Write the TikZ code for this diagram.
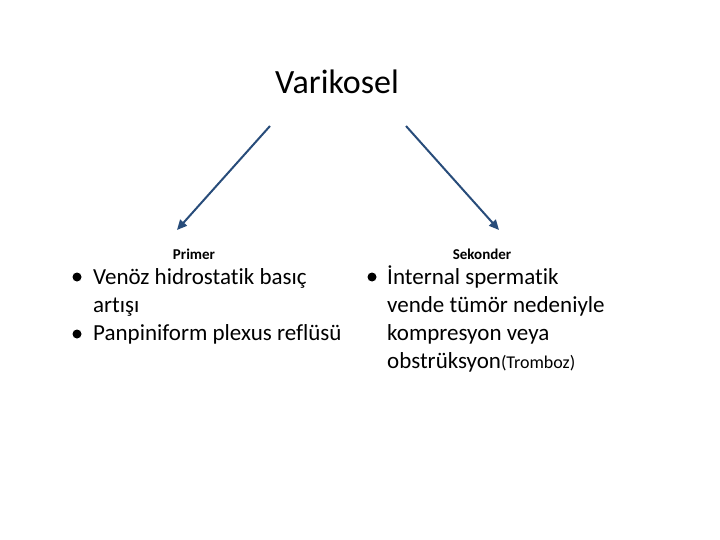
\documentclass[tikz,border=0pt]{standalone}
\usepackage{fontspec}
\setmainfont[Ligatures=NoCommon]{Carlito}
\usetikzlibrary{arrows.meta}
\definecolor{arrowblue}{RGB}{40,76,122}
\tikzset{
  conn/.style={draw=arrowblue, line width=2pt, -{Triangle[length=10pt,width=9pt]}},
  body/.style={anchor=base west, inner sep=0pt, font=\fontsize{23}{27}\selectfont},
  head/.style={anchor=base, inner sep=0pt, font=\fontsize{15}{18}\selectfont\bfseries},
  dot/.style={circle, fill=black, inner sep=0pt, minimum size=9pt}
}
\begin{document}
\begin{tikzpicture}[x=1pt,y=-1pt]
\useasboundingbox (0,0) rectangle (720,540);
\node[anchor=base, inner sep=0pt, font=\fontsize{34}{40}\selectfont] (title) at (337,94) {Varikosel};
\coordinate (l1) at (270,126);
\coordinate (l2) at (177,230);
\coordinate (r1) at (406,126);
\coordinate (r2) at (499,230);
\draw[conn] (l1) -- (l2);
\draw[conn] (r1) -- (r2);
\node[head] (primer) at (194,259) {Primer};
\node[head] (sekonder) at (482,259) {Sekonder};
\node[dot] (b1) at (77,277) {};
\node[body] (t1) at (93,284) {Venöz hidrostatik basıç};
\node[body] (t2) at (93,312) {artışı};
\node[dot] (b2) at (77,334) {};
\node[body] (t3) at (93,340) {Panpiniform plexus reflüsü};
\node[dot] (b3) at (372,277) {};
\node[body] (s1) at (387,284) {İnternal spermatik};
\node[body] (s2) at (387,312) {vende tümör nedeniyle};
\node[body] (s3) at (387,340) {kompresyon veya};
\node[body] (s4) at (387,368) {obstrüksyon{\fontsize{18}{21}\selectfont(Tromboz)}};
\end{tikzpicture}
\end{document}
